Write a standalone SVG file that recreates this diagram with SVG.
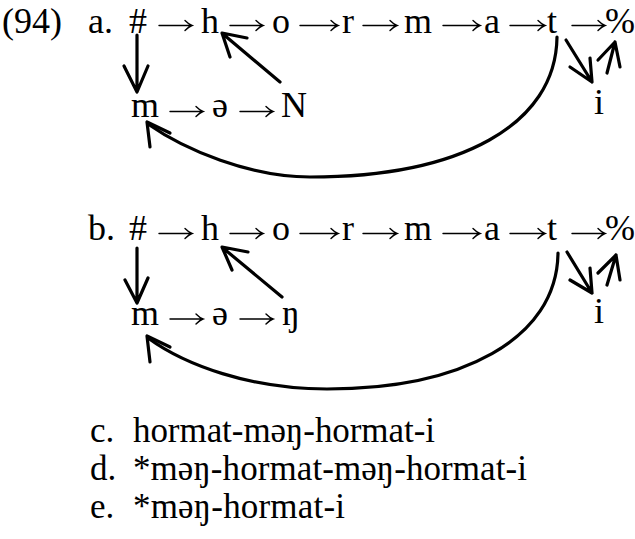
<svg xmlns="http://www.w3.org/2000/svg" width="635" height="539" viewBox="0 0 635 539">
<style>
text{font-family:"Liberation Serif","DejaVu Serif","Times New Roman",serif;font-size:36px;fill:#000}
.ln{font-size:35px}
.ar{fill:none;stroke:#000;stroke-width:1.4;stroke-linecap:round}
.tk{fill:none;stroke:#000;stroke-width:3.2;stroke-linecap:round;stroke-linejoin:round}
</style>
<rect width="635" height="539" fill="#fff"/>
<text x="2" y="33" textLength="60" lengthAdjust="spacingAndGlyphs">(94)</text>
<text x="88" y="33">a.</text>
<g id="a-hash"><text x="129" y="33">#</text></g>
<g id="a-h"><text x="201" y="33">h</text></g>
<g id="a-o"><text x="272" y="33">o</text></g>
<g id="a-r"><text x="342" y="33">r</text></g>
<g id="a-m1"><text x="404" y="33">m</text></g>
<g id="a-a"><text x="484" y="33">a</text></g>
<g id="a-t"><text x="547" y="33">t</text></g>
<g id="a-pct"><text x="605" y="33">%</text></g>
<g id="a-m2"><text x="131" y="117">m</text></g>
<g id="a-schwa"><text x="212" y="117">ə</text></g>
<g id="a-N"><text x="281" y="117">N</text></g>
<g id="a-i"><text x="594" y="114">i</text></g>
<text x="88" y="240">b.</text>
<g id="b-hash"><text x="129" y="240">#</text></g>
<g id="b-h"><text x="201" y="240">h</text></g>
<g id="b-o"><text x="272" y="240">o</text></g>
<g id="b-r"><text x="342" y="240">r</text></g>
<g id="b-m1"><text x="404" y="240">m</text></g>
<g id="b-a"><text x="484" y="240">a</text></g>
<g id="b-t"><text x="547" y="240">t</text></g>
<g id="b-pct"><text x="605" y="240">%</text></g>
<g id="b-m2"><text x="131" y="325">m</text></g>
<g id="b-schwa"><text x="212" y="325">ə</text></g>
<g id="b-eng"><text x="282" y="325">ŋ</text></g>
<g id="b-i"><text x="594" y="323">i</text></g>
<text class="ln" x="90" y="442">c.</text>
<text class="ln" x="133" y="442" textLength="302" lengthAdjust="spacing">hormat-məŋ-hormat-i</text>
<text class="ln" x="90" y="480">d.</text>
<text class="ln" x="133" y="480" textLength="394" lengthAdjust="spacing">*məŋ-hormat-məŋ-hormat-i</text>
<text class="ln" x="90" y="518">e.</text>
<text class="ln" x="133" y="518" textLength="212" lengthAdjust="spacing">*məŋ-hormat-i</text>
<g id="connectors">
<path class="ar" d="M159,25.5H192M185,20.5Q189,24.5 192,25.5Q189,26.5 185,30.5"/>
<path class="ar" d="M230,25.5H263M256,20.5Q260,24.5 263,25.5Q260,26.5 256,30.5"/>
<path class="ar" d="M300,25.5H338M331,20.5Q335,24.5 338,25.5Q335,26.5 331,30.5"/>
<path class="ar" d="M363,25.5H397M390,20.5Q394,24.5 397,25.5Q394,26.5 390,30.5"/>
<path class="ar" d="M443,25.5H480M473,20.5Q477,24.5 480,25.5Q477,26.5 473,30.5"/>
<path class="ar" d="M510,25.5H545M538,20.5Q542,24.5 545,25.5Q542,26.5 538,30.5"/>
<path class="ar" d="M572,25.5H605M598,20.5Q602,24.5 605,25.5Q602,26.5 598,30.5"/>
<path class="ar" d="M170,111.5H203M196,106.5Q200,110.5 203,111.5Q200,112.5 196,116.5"/>
<path class="ar" d="M240,111.5H273M266,106.5Q270,110.5 273,111.5Q270,112.5 266,116.5"/>
<path class="tk" d="M137,35V91M124,66L137,92L148,66"/>
<path class="tk" d="M280,82L223,34M247,38L222,33L230,57" stroke-width="3.8"/>
<path class="tk" d="M557,37C556,125 460,177 310,177C250,177 185,150 148,124" stroke-width="3"/>
<path class="tk" d="M170,133L147,122L150,147"/>
<path class="tk" d="M566,40L592,82M570,67L592,82L590,58"/>
<path class="tk" d="M598,60L615,42M607,73L615,42L620,67"/>
<path class="ar" d="M159,233.5H192M185,228.5Q189,232.5 192,233.5Q189,234.5 185,238.5"/>
<path class="ar" d="M230,233.5H263M256,228.5Q260,232.5 263,233.5Q260,234.5 256,238.5"/>
<path class="ar" d="M300,233.5H338M331,228.5Q335,232.5 338,233.5Q335,234.5 331,238.5"/>
<path class="ar" d="M363,233.5H397M390,228.5Q394,232.5 397,233.5Q394,234.5 390,238.5"/>
<path class="ar" d="M443,233.5H480M473,228.5Q477,232.5 480,233.5Q477,234.5 473,238.5"/>
<path class="ar" d="M510,233.5H545M538,228.5Q542,232.5 545,233.5Q542,234.5 538,238.5"/>
<path class="ar" d="M572,233.5H605M598,228.5Q602,232.5 605,233.5Q602,234.5 598,238.5"/>
<path class="ar" d="M170,319H203M196,314Q200,318 203,319Q200,320 196,324"/>
<path class="ar" d="M240,319H273M266,314Q270,318 273,319Q270,320 266,324"/>
<path class="tk" d="M137,248V302M125,280L137,303L148,278"/>
<path class="tk" d="M282,297L223,248M248,252L222,247L232,270" stroke-width="3.8"/>
<path class="tk" d="M558,253C557,340 460,389 327,389C250,389 185,365 148,338" stroke-width="3"/>
<path class="tk" d="M170,347L147,336L150,362"/>
<path class="tk" d="M567,252L592,293M570,280L592,293L590,268"/>
<path class="tk" d="M598,273L616,255M607,285L616,255L620,280"/>
</g>
</svg>
